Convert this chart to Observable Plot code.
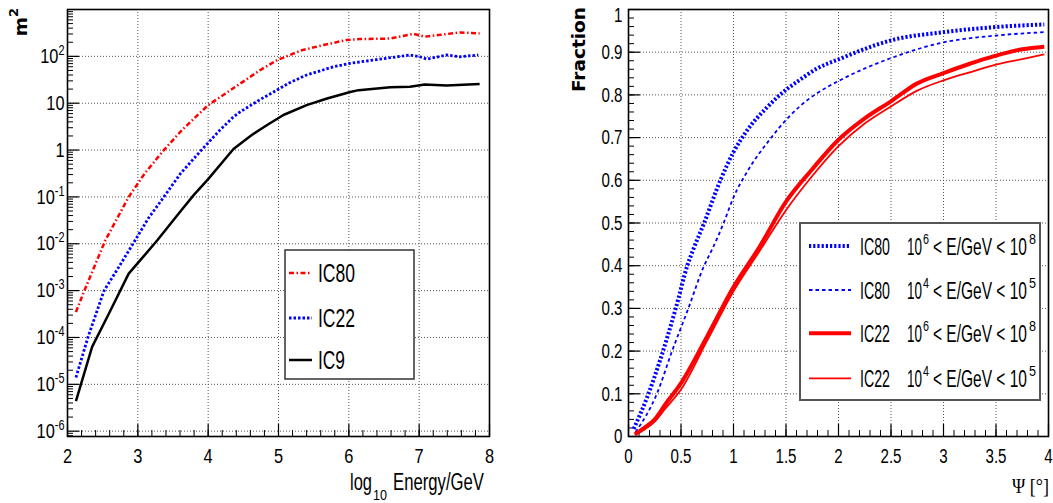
<!DOCTYPE html>
<html>
<head>
<meta charset="utf-8">
<script src="https://cdn.jsdelivr.net/npm/d3@7"></script>
<script src="https://cdn.jsdelivr.net/npm/@observablehq/plot@0.6"></script>
<style>
  html, body { margin: 0; padding: 0; background: #fff; }
  #wrap { position: relative; width: 1053px; height: 503px; overflow: hidden; background: #fff; }
  #wrap > svg { position: absolute; top: 0; }
</style>
</head>
<body>
<div id="wrap"></div>
<script>
// ---------------- Left panel: effective area (m²) vs log10 Energy/GeV ----------------
const ic80LogE = [2.12, 2.24, 2.38, 2.54, 2.87, 3.1, 3.37, 3.63, 4.0, 4.4, 4.74, 4.98, 5.33, 5.64, 5.97, 6.16, 6.59, 6.92, 7.08, 7.30, 7.58, 7.86];
const ic80Area = [3.5e-4, 1e-3, 3.2e-3, 1.2e-2, 0.1, 0.32, 1.0, 2.7, 9.1, 23, 51, 83, 135, 174, 224, 234, 240, 302, 263, 288, 324, 309];

const ic22LogE = [2.12, 2.29, 2.52, 2.73, 2.94, 3.15, 3.37, 3.61, 3.91, 4.17, 4.36, 4.46, 4.74, 4.93, 5.15, 5.40, 5.78, 6.02, 6.44, 6.87, 7.01, 7.11, 7.39, 7.58, 7.84];
const ic22Area = [1.4e-5, 1e-4, 1e-3, 3.2e-3, 1.05e-2, 3.5e-2, 0.10, 0.32, 1.02, 2.7, 5.1, 6.6, 12, 17.4, 27, 40, 60, 71, 87, 107, 98, 87, 107, 98, 107];

const ic9LogE = [2.12, 2.35, 2.6, 2.87, 3.1, 3.28, 3.61, 3.8, 4.0, 4.36, 4.62, 4.85, 5.07, 5.4, 5.69, 6.02, 6.14, 6.59, 6.87, 7.08, 7.39, 7.86];
const ic9Area = [4.4e-6, 6.3e-5, 3.5e-4, 2.3e-3, 5.8e-3, 1.2e-2, 5.0e-2, 0.112, 0.24, 1.05, 2.1, 3.5, 5.6, 9.1, 12.6, 17.4, 19, 21.9, 22.4, 25.1, 24, 25.7];

const leftXTicks = [2, 3, 4, 5, 6, 7, 8];
const leftYTicks = [1e-6, 1e-5, 1e-4, 1e-3, 1e-2, 1e-1, 1, 10, 100];
const leftYTickLabels = ["10^-6", "10^-5", "10^-4", "10^-3", "10^-2", "10^-1", "1", "10", "10^2"];
const leftSeriesNames = ["IC80", "IC22", "IC9"];

// ---------------- Right panel: fraction vs Ψ [°] ----------------
const ic80HighPsi  = [0.05, 0.19, 0.30, 0.45, 0.56, 0.62, 0.72, 0.875, 1.0, 1.13, 1.32, 1.51, 1.63, 1.79, 2.02, 2.21, 2.52, 3.0, 3.5, 3.96];
const ic80HighFrac = [0.018, 0.10, 0.178, 0.30, 0.40, 0.44, 0.50, 0.60, 0.666, 0.717, 0.771, 0.814, 0.835, 0.861, 0.885, 0.904, 0.929, 0.947, 0.959, 0.965];

const ic80LowPsi  = [0.067, 0.27, 0.415, 0.57, 0.72, 0.80, 0.906, 1.0, 1.13, 1.35, 1.51, 1.63, 1.79, 2.02, 2.52, 3.0, 3.5, 3.96];
const ic80LowFrac = [0.01, 0.10, 0.20, 0.30, 0.40, 0.44, 0.50, 0.56, 0.62, 0.697, 0.744, 0.773, 0.803, 0.835, 0.888, 0.923, 0.939, 0.947];

const ic22HighPsi  = [0.06, 0.15, 0.25, 0.35, 0.5, 0.75, 1.0, 1.25, 1.5, 1.75, 2.0, 2.25, 2.5, 2.75, 3.0, 3.25, 3.5, 3.75, 3.96];
const ic22HighFrac = [0.005, 0.02, 0.04, 0.075, 0.125, 0.235, 0.35, 0.445, 0.55, 0.626, 0.695, 0.745, 0.785, 0.827, 0.851, 0.873, 0.892, 0.907, 0.913];

const ic22LowPsi  = [0.06, 0.15, 0.25, 0.35, 0.5, 0.75, 1.0, 1.25, 1.5, 1.75, 2.0, 2.25, 2.5, 2.75, 3.0, 3.25, 3.5, 3.75, 3.96];
const ic22LowFrac = [0.004, 0.016, 0.035, 0.065, 0.11, 0.225, 0.34, 0.435, 0.53, 0.61, 0.68, 0.733, 0.773, 0.81, 0.834, 0.853, 0.871, 0.884, 0.895];

const rightXTicks = [0, 0.5, 1, 1.5, 2, 2.5, 3, 3.5, 4];
const rightYTicks = [0, 0.1, 0.2, 0.3, 0.4, 0.5, 0.6, 0.7, 0.8, 0.9, 1];
const rightXTickLabels = ["0", "0.5", "1", "1.5", "2", "2.5", "3", "3.5", "4"];
const rightYTickLabels = ["0", "0.1", "0.2", "0.3", "0.4", "0.5", "0.6", "0.7", "0.8", "0.9", "1"];
const rightSeriesNames = ["IC80", "IC80", "IC22", "IC22"];
const rightSeriesRanges = [["6", "8"], ["4", "5"], ["6", "8"], ["4", "5"]];

// ---------------- helpers ----------------
const rows = (xs, ys) => xs.map((x, i) => ({x, y: ys[i]}));
const RED = "#ff0000", BLUE = "#0000ff";
const leftStyles = [
  {stroke: RED,   strokeWidth: 2.5, strokeDasharray: "5,2.5,1.5,2.5"},
  {stroke: BLUE,  strokeWidth: 2.8, strokeDasharray: "2.5,2"},
  {stroke: "#000", strokeWidth: 2.5, strokeDasharray: null}
];
const rightStyles = [
  {stroke: BLUE, strokeWidth: 4,   strokeDasharray: "2.2,2"},
  {stroke: BLUE, strokeWidth: 1.8, strokeDasharray: "3.5,3"},
  {stroke: RED,  strokeWidth: 4,   strokeDasharray: null},
  {stroke: RED,  strokeWidth: 1.8, strokeDasharray: null}
];
const gridStyle = {stroke: "#555", strokeOpacity: 1, strokeWidth: 1, strokeDasharray: "1,2"};

const H = 503, MT = 9, MB = 67;
const plotH = H - MT - MB;

// minor tick positions
const leftXMinor = d3.range(2, 8.0001, 0.2);
const leftYMinor = [];
for (let e = -7; e <= 2; e++) for (let k = 2; k <= 9; k++) { const v = k * Math.pow(10, e); if (v >= 7.7e-7 && v <= 1000) leftYMinor.push(v); }
const rightXMinor = d3.range(0, 4.0001, 0.1);
const rightYMinor = d3.range(0, 1.0001, 0.02);

const font = "'Liberation Sans', Arial, sans-serif";

// ---------------- left plot ----------------
const LW = 527, LML = 67, LMR = 38;
const leftW = LW - LML - LMR;
const leftData = [rows(ic80LogE, ic80Area), rows(ic22LogE, ic22Area), rows(ic9LogE, ic9Area)];
const left = Plot.plot({
  width: LW, height: H, marginLeft: LML, marginRight: LMR, marginTop: MT, marginBottom: MB,
  style: {fontFamily: font, fontSize: "21px", color: "#000", background: "transparent", overflow: "visible"},
  x: {domain: [2, 8], ticks: leftXTicks, tickSize: 0, tickPadding: 12, tickFormat: d => String(d), label: null},
  y: {type: "log", domain: [7.7e-7, 1000], ticks: leftYTicks, tickSize: 0, tickPadding: 3,
      tickFormat: d => leftYTickLabels[leftYTicks.findIndex(t => Math.abs(t - d) / t < 1e-6)], label: null},
  marks: [
    Plot.ruleX(leftXTicks, {x: d => d, ...gridStyle}),
    Plot.ruleY(leftYTicks, {y: d => d, ...gridStyle}),
    Plot.tickX(leftXMinor, {x: d => d, insetTop: plotH - 6, stroke: "#000", strokeWidth: 1}),
    Plot.tickX(leftXTicks, {x: d => d, insetTop: plotH - 12, stroke: "#000", strokeWidth: 1.2}),
    Plot.tickY(leftYMinor, {y: d => d, insetRight: leftW - 6, stroke: "#000", strokeWidth: 1}),
    Plot.tickY(leftYTicks, {y: d => d, insetRight: leftW - 12, stroke: "#000", strokeWidth: 1.2}),
    ...leftData.map((d, i) => Plot.line(d, {x: "x", y: "y", ...leftStyles[i], strokeLinecap: "butt"})),
    Plot.frame({stroke: "#000", strokeWidth: 1.6})
  ]
});

// ---------------- right plot ----------------
const RW = 526, RML = 101, RMR = 5;
const rightW = RW - RML - RMR;
const rightData = [rows(ic80HighPsi, ic80HighFrac), rows(ic80LowPsi, ic80LowFrac), rows(ic22HighPsi, ic22HighFrac), rows(ic22LowPsi, ic22LowFrac)];
const right = Plot.plot({
  width: RW, height: H, marginLeft: RML, marginRight: RMR, marginTop: MT, marginBottom: MB,
  style: {fontFamily: font, fontSize: "21px", color: "#000", background: "transparent", overflow: "visible"},
  x: {domain: [0, 4], ticks: rightXTicks, tickSize: 0, tickPadding: 12, tickFormat: d => rightXTickLabels[rightXTicks.indexOf(d)], label: null},
  y: {domain: [0, 1], ticks: rightYTicks, tickSize: 0, tickPadding: 6, tickFormat: d => rightYTickLabels[rightYTicks.indexOf(d)], label: null},
  marks: [
    Plot.ruleX(rightXTicks, {x: d => d, ...gridStyle}),
    Plot.ruleY(rightYTicks, {y: d => d, ...gridStyle}),
    Plot.tickX(rightXMinor, {x: d => d, insetTop: plotH - 6, stroke: "#000", strokeWidth: 1}),
    Plot.tickX(rightXTicks, {x: d => d, insetTop: plotH - 12, stroke: "#000", strokeWidth: 1.2}),
    Plot.tickY(rightYMinor, {y: d => d, insetRight: rightW - 6, stroke: "#000", strokeWidth: 1}),
    Plot.tickY(rightYTicks, {y: d => d, insetRight: rightW - 12, stroke: "#000", strokeWidth: 1.2}),
    ...rightData.map((d, i) => Plot.line(d, {x: "x", y: "y", curve: "monotone-x", ...rightStyles[i], strokeLinecap: "butt"})),
    Plot.frame({stroke: "#000", strokeWidth: 1.6})
  ]
});

const wrap = document.getElementById("wrap");
left.style.left = "0px";
right.style.left = LW + "px";
wrap.append(left, right);

// superscripts on log tick labels
d3.select(left).selectAll('g[aria-label="y-axis tick label"] text').each(function () {
  const t = this.textContent;
  const m = /^10\^(.+)$/.exec(t);
  if (m) {
    const s = d3.select(this);
    s.text("");
    s.append("tspan").text("10");
    s.append("tspan").attr("dy", "-8").attr("font-size", "14px").text(m[1]);
  }
});

// narrow the tick labels horizontally (condensed look of the original)
function condense(svg, factor) {
  d3.select(svg).selectAll('g[aria-label$="tick label"] text').each(function () {
    const x = +(this.getAttribute("x") || 0);
    this.removeAttribute("x");
    const tr = this.getAttribute("transform") || "";
    this.setAttribute("transform", `${tr} translate(${x},0) scale(${factor},1)`);
  });
}
condense(left, 0.78);
condense(right, 0.72);

// the top label of the fraction axis sits just below its tick, inside the page
d3.select(right).selectAll('g[aria-label="y-axis tick label"] text')
  .filter(function () { return this.textContent === rightYTickLabels[rightYTickLabels.length - 1]; })
  .each(function () { this.setAttribute("transform", `translate(0,6) ${this.getAttribute("transform") || ""}`); });

// ---------------- overlay: titles and legends ----------------
const ov = d3.select(wrap).append("svg")
  .attr("width", 1053).attr("height", 503).style("left", "0px").style("pointer-events", "none")
  .attr("font-family", font);

// text placed at (x, y) whose rendered width is squeezed to len
function label(x, y, size, str, len, family) {
  const g = ov.append("g").attr("transform", `translate(${x},${y})`);
  const t = g.append("text").attr("font-size", size + "px").text(str);
  if (family) t.attr("font-family", family);
  const w = t.node().getComputedTextLength();
  g.attr("transform", `translate(${x},${y}) scale(${(len / w).toFixed(4)},1)`);
  return t;
}

// y titles
const m2 = ov.append("text").attr("transform", "translate(27,8) rotate(-90)").attr("text-anchor", "end")
  .attr("font-family", "'DejaVu Sans', sans-serif").attr("font-weight", "bold").attr("font-size", "18.5px");
m2.append("tspan").text("m");
m2.append("tspan").attr("dy", "-9").attr("font-size", "13px").text("2");

ov.append("text").attr("transform", "translate(585,7) rotate(-90)").attr("text-anchor", "end")
  .attr("font-family", "'DejaVu Sans', sans-serif").attr("font-weight", "bold").attr("font-size", "18.5px")
  .text("Fraction");

// x titles
label(350, 490, 23, "log", 22);
label(373, 500, 15, "10", 14);
label(393, 490, 23, "Energy/GeV", 91);
label(1012, 493, 22, "Ψ [°]", 37, "'Liberation Serif', serif");

// left legend
ov.append("rect").attr("x", 285).attr("y", 250).attr("width", 129).attr("height", 129)
  .attr("fill", "#fff").attr("stroke", "#333").attr("stroke-width", 1.5);
const leftRowsY = [273, 318, 360];
const leftTextLen = [37, 37, 27];
leftSeriesNames.forEach((name, i) => {
  const st = leftStyles[i];
  ov.append("line").attr("x1", 289).attr("x2", 312).attr("y1", leftRowsY[i]).attr("y2", leftRowsY[i])
    .attr("stroke", st.stroke).attr("stroke-width", st.strokeWidth).attr("stroke-dasharray", st.strokeDasharray);
  label(318, leftRowsY[i] + 9, 25, name, leftTextLen[i]);
});

// right legend
ov.append("rect").attr("x", 800).attr("y", 223).attr("width", 240).attr("height", 177)
  .attr("fill", "#fff").attr("stroke", "#555").attr("stroke-width", 2);
const rightRowsY = [246, 290, 333.3, 378.3];
rightSeriesNames.forEach((name, i) => {
  const st = rightStyles[i];
  const y = rightRowsY[i];
  ov.append("line").attr("x1", 809).attr("x2", 851).attr("y1", y).attr("y2", y)
    .attr("stroke", st.stroke).attr("stroke-width", st.strokeWidth).attr("stroke-dasharray", st.strokeDasharray);
  label(860, y + 8.5, 24, name, 30);
  label(907, y + 8.5, 24, "10", 15);
  label(923, y - 2, 15, rightSeriesRanges[i][0], 6);
  label(933, y + 8.5, 24, "< E/GeV < 10", 94);
  label(1029, y - 2, 15, rightSeriesRanges[i][1], 7);
});
</script>
</body>
</html>
